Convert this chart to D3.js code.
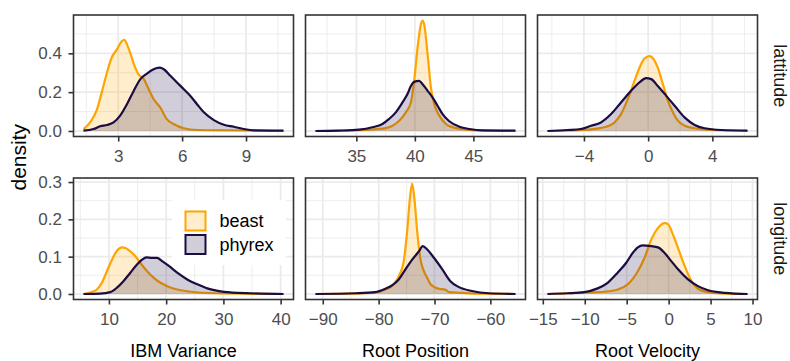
<!DOCTYPE html>
<html>
<head>
<meta charset="utf-8">
<script src="https://cdn.jsdelivr.net/npm/d3@7"></script>
<style>
  body { margin: 0; background: #fff; }
  svg { display: block; font-family: "Liberation Sans", Arial, sans-serif; }
</style>
</head>
<body>
<div id="chart"></div>
<script>
// density curves, [x, density]
const latIbmBeast = [[1.37,0.01],[1.68,0.044],[2.0,0.11],[2.23,0.2],[2.47,0.3],[2.7,0.38],[2.94,0.42],[3.17,0.463],[3.3,0.47],[3.41,0.446],[3.57,0.40],[3.72,0.35],[3.96,0.29],[4.19,0.27],[4.43,0.215],[4.66,0.165],[4.98,0.12],[5.29,0.06],[5.6,0.036],[6.08,0.014],[6.7,0.005],[7.96,0.003],[9.06,0.002],[10.76,0.0]]
const latIbmPhyrex = [[1.37,0.002],[1.84,0.01],[2.15,0.024],[2.47,0.031],[2.78,0.044],[3.09,0.079],[3.41,0.138],[3.72,0.205],[4.04,0.267],[4.35,0.296],[4.66,0.318],[4.95,0.326],[5.14,0.318],[5.45,0.284],[5.76,0.25],[6.08,0.215],[6.39,0.18],[6.7,0.138],[7.02,0.096],[7.49,0.056],[7.96,0.032],[8.43,0.022],[8.9,0.01],[9.37,0.003],[10.76,0.002]]

const latPosBeast = [[31.51,0],[34.09,0.002],[35.8,0.005],[36.66,0.01],[37.51,0.015],[38.09,0.027],[38.66,0.053],[39.23,0.096],[39.66,0.147],[39.94,0.258],[40.23,0.43],[40.51,0.549],[40.66,0.569],[40.8,0.549],[41.09,0.395],[41.37,0.224],[41.66,0.138],[42.09,0.079],[42.66,0.036],[43.23,0.019],[44.09,0.009],[45.5,0.002],[48.6,0]]
const latPosPhyrex = [[31.51,0],[33.51,0.002],[35.23,0.007],[36.37,0.019],[37.23,0.036],[37.8,0.062],[38.37,0.096],[38.94,0.147],[39.37,0.19],[39.66,0.232],[39.94,0.253],[40.37,0.258],[40.66,0.241],[41.09,0.207],[41.51,0.173],[41.94,0.13],[42.37,0.087],[42.94,0.05],[43.8,0.022],[44.66,0.01],[45.8,0.003],[48.6,0.002]]

const latVelBeast = [[-6.27,0],[-4.81,0.002],[-3.77,0.007],[-2.73,0.019],[-2.1,0.044],[-1.69,0.087],[-1.27,0.164],[-0.85,0.258],[-0.54,0.326],[-0.23,0.373],[0.08,0.386],[0.35,0.369],[0.6,0.326],[0.92,0.241],[1.23,0.156],[1.54,0.096],[1.85,0.053],[2.27,0.027],[2.9,0.014],[3.94,0.005],[6.19,0]]
const latVelPhyrex = [[-6.27,0],[-5.02,0.005],[-4.19,0.01],[-3.56,0.027],[-2.94,0.044],[-2.31,0.087],[-1.69,0.147],[-1.06,0.207],[-0.54,0.25],[-0.125,0.272],[0.19,0.267],[0.6,0.232],[1.13,0.181],[1.65,0.13],[2.27,0.07],[2.9,0.031],[3.52,0.014],[4.56,0.005],[6.19,0.002]]

const lonIbmBeast = [[5.56,0],[6.73,0.004],[7.89,0.012],[8.77,0.03],[9.65,0.061],[10.53,0.092],[11.4,0.116],[12.28,0.125],[12.87,0.123],[13.74,0.114],[14.62,0.101],[15.5,0.083],[16.67,0.061],[17.84,0.043],[19.0,0.03],[20.18,0.021],[21.93,0.012],[24.27,0.006],[28.36,0.002],[40.5,0]]
const lonIbmPhyrex = [[5.56,0],[8.48,0.001],[10.23,0.005],[11.4,0.017],[12.57,0.035],[13.74,0.057],[14.91,0.079],[15.79,0.092],[16.55,0.098],[17.54,0.097],[18.42,0.097],[19.3,0.088],[20.47,0.075],[21.93,0.057],[23.68,0.039],[25.44,0.026],[27.19,0.015],[29.53,0.007],[32.46,0.003],[40.5,0]]

const lonPosBeast = [[-91.3,0],[-84.1,0.001],[-80.6,0.004],[-78.8,0.012],[-77.3,0.026],[-76.1,0.057],[-75.5,0.088],[-74.9,0.168],[-74.4,0.256],[-74.0,0.296],[-73.6,0.256],[-73.1,0.168],[-72.5,0.092],[-71.9,0.061],[-71.3,0.043],[-70.7,0.026],[-69.5,0.015],[-68.0,0.011],[-67.4,0.005],[-66.2,0.004],[-63.2,0.001],[-55.5,0]]
const lonPosPhyrex = [[-91.3,0],[-84.1,0.002],[-80.6,0.005],[-78.8,0.014],[-77.6,0.023],[-76.4,0.039],[-75.2,0.066],[-74.0,0.092],[-72.8,0.114],[-72.1,0.128],[-71.3,0.119],[-70.1,0.097],[-68.6,0.066],[-67.2,0.035],[-65.7,0.019],[-63.3,0.008],[-60.3,0.002],[-55.5,0]]

const lonVelBeast = [[-14.44,0],[-11.65,0.002],[-9.66,0.004],[-7.67,0.006],[-6.06,0.012],[-4.86,0.026],[-3.67,0.061],[-2.87,0.097],[-2.07,0.146],[-1.27,0.177],[-0.48,0.19],[-0.08,0.187],[0.52,0.159],[1.12,0.123],[1.91,0.075],[2.71,0.035],[3.5,0.014],[4.7,0.005],[6.7,0.001],[9.4,0]]
const lonVelPhyrex = [[-14.44,0],[-12.05,0.002],[-10.06,0.005],[-8.47,0.015],[-7.27,0.03],[-6.08,0.057],[-5.08,0.083],[-4.28,0.11],[-3.67,0.125],[-3.07,0.13],[-2.07,0.128],[-1.27,0.125],[-0.48,0.11],[0.32,0.088],[1.12,0.066],[2.31,0.039],[3.5,0.021],[4.7,0.01],[6.7,0.003],[9.4,0]]

const variables = ['IBM Variance', 'Root Position', 'Root Velocity']
const rows = ['lattitude', 'longitude']
const groups = ['beast', 'phyrex']

const latXTicks = [[3, 6, 9], [35, 40, 45], [-4, 0, 4]]
const lonXTicks = [[10, 20, 30, 40], [-90, -80, -70, -60], [-15, -10, -5, 0, 5, 10]]
const latYTicks = [0, 0.2, 0.4]
const lonYTicks = [0, 0.1, 0.2, 0.3]

const panelData = [
    [[latIbmBeast, latIbmPhyrex], [latPosBeast, latPosPhyrex], [latVelBeast, latVelPhyrex]],
    [[lonIbmBeast, lonIbmPhyrex], [lonPosBeast, lonPosPhyrex], [lonVelBeast, lonVelPhyrex]]
]
const xTicks = [latXTicks, lonXTicks]
const yTicks = [latYTicks, lonYTicks]

// layout
const width = 790, height = 361
const colLeft = [73.5, 305.5, 537.5], panelW = 220
const rowTop = [15, 178], panelH = 121.5
const strokeCol = {beast: '#ffa500', phyrex: '#1b0c41'}
const grid = '#ebebeb'

const svg = d3.select('#chart').append('svg')
    .attr('width', width)
    .attr('height', height)

// expand a range by 5% on each side, as ggplot does
function expand (ext) {
    let d = (ext[1] - ext[0]) * 0.05
    return [ext[0] - d, ext[1] + d]
}

// minor breaks: midpoints, plus one step beyond each end
function minors (ticks, dom) {
    let step = ticks[1] - ticks[0]
    let out = []
    for (let i = -1; i < ticks.length; i++) {
        out.push(ticks[0] + step * (i + 0.5))
    }
    return out.filter(v => v >= dom[0] && v <= dom[1])
}

let fmtY = d3.format('.1f')
let fmtX = d3.format('d')

rows.forEach((rowName, r) => {
    let rowMax = d3.max(panelData[r], p => d3.max(p, s => d3.max(s, d => d[1])))
    let yScale = d3.scaleLinear()
        .domain(expand([0, rowMax]))
        .range([rowTop[r] + panelH, rowTop[r]])

    variables.forEach((varName, c) => {
        let series = panelData[r][c]
        let xExt = d3.extent([].concat(series[0], series[1]), d => d[0])
        let xScale = d3.scaleLinear()
            .domain(expand(xExt))
            .range([colLeft[c], colLeft[c] + panelW])

        let g = svg.append('g')
        let clipId = 'clip' + r + c
        svg.append('clipPath').attr('id', clipId)
            .append('rect')
            .attr('x', colLeft[c]).attr('y', rowTop[r])
            .attr('width', panelW).attr('height', panelH)

        // grid
        let xt = xTicks[r][c]
        let yt = yTicks[r]
        g.selectAll('.xminor').data(minors(xt, xScale.domain())).enter().append('line')
            .attr('x1', d => xScale(d)).attr('x2', d => xScale(d))
            .attr('y1', rowTop[r]).attr('y2', rowTop[r] + panelH)
            .attr('stroke', grid).attr('stroke-width', 0.9)
        g.selectAll('.yminor').data(minors(yt, yScale.domain())).enter().append('line')
            .attr('x1', colLeft[c]).attr('x2', colLeft[c] + panelW)
            .attr('y1', d => yScale(d)).attr('y2', d => yScale(d))
            .attr('stroke', grid).attr('stroke-width', 0.9)
        g.selectAll('.xmajor').data(xt).enter().append('line')
            .attr('x1', d => xScale(d)).attr('x2', d => xScale(d))
            .attr('y1', rowTop[r]).attr('y2', rowTop[r] + panelH)
            .attr('stroke', grid).attr('stroke-width', 1.8)
        g.selectAll('.ymajor').data(yt).enter().append('line')
            .attr('x1', colLeft[c]).attr('x2', colLeft[c] + panelW)
            .attr('y1', d => yScale(d)).attr('y2', d => yScale(d))
            .attr('stroke', grid).attr('stroke-width', 1.8)

        // legend background sits over the grid in the bottom-left panel
        if (r === 1 && c === 0) {
            g.append('rect')
                .attr('x', 172).attr('y', 200)
                .attr('width', 114).attr('height', 65)
                .attr('fill', '#fff')
        }

        let area = d3.area()
            .x(d => xScale(d[0]))
            .y0(yScale(0))
            .y1(d => yScale(d[1]))
            .curve(d3.curveMonotoneX)
        let line = d3.line()
            .x(d => xScale(d[0]))
            .y(d => yScale(d[1]))
            .curve(d3.curveMonotoneX)

        let plot = g.append('g').attr('clip-path', 'url(#' + clipId + ')')
        groups.forEach((grp, k) => {
            plot.append('path')
                .datum(series[k])
                .attr('d', area)
                .attr('fill', strokeCol[grp])
                .attr('fill-opacity', 0.2)
            plot.append('path')
                .datum(series[k])
                .attr('d', line)
                .attr('fill', 'none')
                .attr('stroke', strokeCol[grp])
                .attr('stroke-width', 2.2)
                .attr('stroke-linejoin', 'round')
        })

        // legend
        if (r === 1 && c === 0) {
            groups.forEach((grp, k) => {
                let ky = 211.5 + k * 23.5
                g.append('rect')
                    .attr('x', 185.5).attr('y', ky)
                    .attr('width', 20).attr('height', 19)
                    .attr('fill', strokeCol[grp]).attr('fill-opacity', 0.2)
                    .attr('stroke', strokeCol[grp]).attr('stroke-width', 2)
                g.append('text')
                    .attr('x', 219.5).attr('y', ky + 9.5)
                    .attr('dy', '0.35em')
                    .style('font-size', '18px')
                    .attr('fill', '#000')
                    .text(grp)
            })
        }

        // panel border
        g.append('rect')
            .attr('x', colLeft[c]).attr('y', rowTop[r])
            .attr('width', panelW).attr('height', panelH)
            .attr('fill', 'none')
            .attr('stroke', '#333').attr('stroke-width', 1.6)

        // x axis
        let xAxis = svg.append('g')
            .attr('transform', 'translate(0,' + (rowTop[r] + panelH) + ')')
            .call(d3.axisBottom(xScale).tickValues(xt).tickFormat(fmtX).tickSize(5).tickPadding(8))
        xAxis.select('.domain').remove()
        xAxis.selectAll('line').attr('stroke', '#333').attr('stroke-width', 1.6)
        xAxis.selectAll('text').attr('fill', '#4d4d4d').style('font-size', '17px')
            .style('font-family', '"Liberation Sans", Arial, sans-serif')

        // y axis only on the first column
        if (c === 0) {
            let yAxis = svg.append('g')
                .attr('transform', 'translate(' + colLeft[0] + ',0)')
                .call(d3.axisLeft(yScale).tickValues(yt).tickFormat(fmtY).tickSize(5).tickPadding(6.5))
            yAxis.select('.domain').remove()
            yAxis.selectAll('line').attr('stroke', '#333').attr('stroke-width', 1.6)
            yAxis.selectAll('text').attr('fill', '#4d4d4d').style('font-size', '17px')
                .style('font-family', '"Liberation Sans", Arial, sans-serif')
        }
    })

    // strip label on the right
    svg.append('text')
        .attr('transform', 'translate(774,' + (rowTop[r] + panelH / 2) + ') rotate(90)')
        .attr('text-anchor', 'middle')
        .attr('fill', '#1a1a1a')
        .style('font-size', '18px')
        .text(rowName)
})

// axis titles
variables.forEach((v, c) => {
    svg.append('text')
        .attr('x', colLeft[c] + panelW / 2)
        .attr('y', 357)
        .attr('text-anchor', 'middle')
        .attr('fill', '#000')
        .style('font-size', '18px')
        .text(v)
})

svg.append('text')
    .attr('transform', 'translate(25.5,' + ((rowTop[0] + rowTop[1] + panelH) / 2) + ') rotate(-90)')
    .attr('text-anchor', 'middle')
    .attr('fill', '#000')
    .style('font-size', '21px')
    .text('density')
</script>
</body>
</html>
